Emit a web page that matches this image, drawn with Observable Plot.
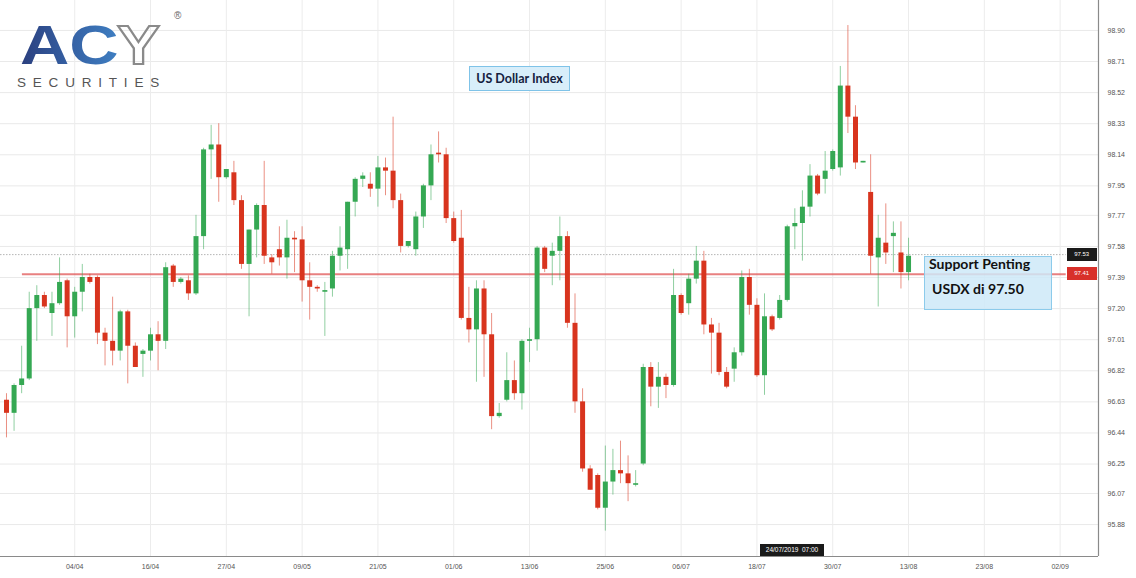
<!DOCTYPE html>
<html><head><meta charset="utf-8">
<script src="https://cdn.jsdelivr.net/npm/d3@7"></script>
<script src="https://cdn.jsdelivr.net/npm/@observablehq/plot@0.6"></script>
<style>
html,body{margin:0;padding:0;background:#fff;}
#wrap{position:relative;width:1136px;height:578px;overflow:hidden;}
.box{position:absolute;font-family:Lato,"Liberation Sans",sans-serif;font-weight:700;color:#111;box-sizing:border-box;}
.tag{position:absolute;font-family:"Liberation Sans",sans-serif;font-size:6px;color:#fff;box-sizing:border-box;line-height:12px;text-align:center;}
</style></head><body><div id="wrap"></div>
<script>
// OHLC values (one per candle, left to right)
const open = [96.64,96.56,96.73,96.77,97.20,97.28,97.17,97.23,97.37,97.15,
97.30,97.39,97.39,97.05,97.00,96.94,97.18,96.97,96.92,96.94,
97.04,97.00,97.46,97.36,97.37,97.29,97.64,98.17,98.20,98.00,
98.03,97.86,97.47,97.68,97.83,97.51,97.56,97.51,97.63,97.62,
97.37,97.33,97.30,97.32,97.52,97.56,97.85,97.99,97.96,97.93,
98.06,98.04,97.86,97.58,97.56,97.76,97.95,98.15,98.14,97.75,
97.63,97.14,97.07,97.32,97.04,96.54,96.64,96.76,96.68,97.00,
97.01,97.57,97.52,97.55,97.64,97.11,96.63,96.22,96.18,95.98,
96.14,96.21,96.19,96.12,96.25,96.84,96.72,96.78,96.73,97.28,
97.23,97.38,97.49,97.10,97.05,96.81,96.83,96.93,97.39,97.22,
96.79,97.15,97.14,97.25,97.70,97.72,97.82,98.01,97.99,98.05,
98.06,98.56,98.37,98.09,97.91,97.51,97.60,97.64,97.54,97.42];
const high = [96.68,96.74,96.97,97.30,97.34,97.30,97.30,97.51,97.38,97.33,
97.47,97.41,97.40,97.08,97.27,97.19,97.19,96.99,96.95,97.08,
97.12,97.48,97.47,97.39,97.40,97.77,98.18,98.32,98.33,98.05,
98.10,97.89,97.68,97.84,98.10,97.53,97.70,97.74,97.67,97.70,
97.48,97.34,97.36,97.55,97.70,97.85,98.00,98.03,98.03,98.13,
98.12,98.37,97.90,97.61,97.79,97.96,98.20,98.28,98.18,97.79,
97.80,97.33,97.37,97.37,97.17,96.62,96.93,96.88,97.01,97.08,
97.58,97.58,97.60,97.76,97.67,97.29,96.71,96.24,96.19,96.36,
96.34,96.39,96.30,96.21,96.86,96.87,96.87,96.80,97.44,97.29,
97.41,97.58,97.55,97.14,97.11,96.84,96.96,97.43,97.44,97.26,
97.29,97.16,97.28,97.71,97.81,97.92,98.08,98.02,98.16,98.17,
98.68,98.93,98.44,98.10,98.14,97.77,97.84,97.73,97.73,97.63];
const low = [96.41,96.45,96.68,96.76,97.00,97.20,97.03,97.22,96.96,97.02,
97.18,97.35,96.98,96.85,96.85,96.88,96.74,96.84,96.78,96.88,
96.82,96.95,97.33,97.35,97.25,97.28,97.56,97.99,97.85,97.99,
97.83,97.44,97.15,97.51,97.47,97.41,97.46,97.38,97.42,97.24,
97.13,97.30,97.03,97.27,97.43,97.44,97.76,97.94,97.88,97.82,
97.89,97.81,97.54,97.57,97.52,97.69,97.86,98.09,97.72,97.60,
97.13,96.99,96.75,96.78,96.46,96.53,96.63,96.64,96.58,96.87,
96.94,97.42,97.34,97.37,97.08,96.56,96.20,96.09,95.97,95.84,
96.06,96.13,96.02,96.11,96.24,96.60,96.59,96.65,96.72,97.16,
97.16,97.35,97.04,96.80,96.79,96.71,96.75,96.91,97.16,96.78,
96.67,97.06,97.13,97.24,97.56,97.49,97.76,97.89,97.90,98.04,
98.01,98.27,98.05,98.09,97.41,97.21,97.47,97.42,97.32,97.37];
const close = [96.56,96.73,96.77,97.20,97.28,97.21,97.23,97.36,97.15,97.30,
97.39,97.36,97.05,97.00,96.94,97.18,96.97,96.84,96.94,97.04,
97.00,97.45,97.36,97.38,97.29,97.64,98.17,98.20,98.00,98.05,
97.86,97.47,97.68,97.83,97.52,97.48,97.51,97.63,97.62,97.37,
97.33,97.32,97.31,97.52,97.57,97.85,97.99,98.01,97.93,98.06,
98.04,97.86,97.58,97.61,97.76,97.95,98.14,98.14,97.75,97.61,
97.14,97.07,97.32,97.04,96.54,96.56,96.76,96.68,97.00,97.01,
97.57,97.44,97.55,97.64,97.11,96.63,96.22,96.09,95.98,96.14,
96.21,96.19,96.13,96.13,96.84,96.72,96.78,96.73,97.28,97.17,
97.38,97.49,97.10,97.05,96.81,96.72,96.93,97.39,97.22,96.79,
97.15,97.07,97.25,97.70,97.72,97.82,98.01,97.90,98.04,98.16,
98.56,98.37,98.09,98.10,97.52,97.63,97.54,97.66,97.42,97.52];

// axis ticks
const xTickIndex = [9,19,29,39,49,59,69,79,89,99,109,119,129,139];
const xTickLabels = ["04/04","16/04","27/04","09/05","21/05","01/06","13/06","25/06","06/07","18/07","30/07","13/08","23/08","02/09"];
const yTickLabels = ["95.88","96.07","96.25","96.44","96.63","96.82","97.01","97.20","97.39","97.58","97.77","97.95","98.14","98.33","98.52","98.71","98.90"];
const yTicks = yTickLabels.map(Number);

// reference lines
const lastPrice = 97.53;
const supportLine = 97.41;

const GREEN = "#35a853", RED = "#d8341e";
const data = open.map((o, i) => ({i, open: o, high: high[i], low: low[i], close: close[i], up: close[i] >= o}));

const xDomain = [-0.79, 144.06];
const yDomain = [95.685, 99.083];

const chart = Plot.plot({
  width: 1136, height: 578,
  marginLeft: 0, marginRight: 38, marginTop: 0, marginBottom: 22,
  style: {fontFamily: "Liberation Sans, Arial, sans-serif", fontSize: "7px", color: "#555", background: "transparent"},
  x: {type: "linear", domain: xDomain, label: null},
  y: {type: "linear", domain: yDomain, label: null},
  marks: [
    Plot.gridY(yTicks, {stroke: "#e9e9e9", strokeOpacity: 1}),
    Plot.gridX(xTickIndex, {stroke: "#ececec", strokeOpacity: 1}),
    Plot.ruleY([lastPrice], {x1: xDomain[0], x2: 139.8, stroke: "#b5b5b5", strokeDasharray: "1.5,1.5", strokeWidth: 1}),
    Plot.ruleY([supportLine], {x1: 2.1, x2: 139.8, stroke: "#e05555", strokeOpacity: 0.75, strokeWidth: 2}),
    Plot.ruleX(data, {x: "i", y1: "low", y2: "high", stroke: d => d.up ? GREEN : RED, strokeOpacity: 0.55, strokeWidth: 1}),
    Plot.ruleX(data, {x: "i", y1: "open", y2: "close", stroke: d => d.up ? GREEN : RED, strokeWidth: 5}),
    Plot.ruleY([yDomain[0]], {stroke: "#8a8a8a", strokeWidth: 1.2}),
    Plot.ruleX([xDomain[1]], {stroke: "#8a8a8a", strokeWidth: 1.2}),
    Plot.axisY(yTicks, {anchor: "right", label: null, tickSize: 0, tickPadding: 9, tickFormat: d => yTickLabels[yTicks.indexOf(d)], fontSize: 7}),
    Plot.axisX(xTickIndex, {anchor: "bottom", label: null, tickSize: 0, tickPadding: 8, tickFormat: d => xTickLabels[xTickIndex.indexOf(d)], fontSize: 7})
  ]
});

const wrap = document.getElementById("wrap");
chart.style.position = "absolute";
chart.style.left = "0px";
chart.style.top = "0px";
wrap.appendChild(chart);

const xs = chart.scale("x"), ys = chart.scale("y");

function tag(text, value, bg) {
  const d = document.createElement("div");
  d.className = "tag";
  d.textContent = text;
  const cy = ys.apply(value);
  d.style.left = (xs.apply(139.8) + 1) + "px";
  d.style.top = (cy - 6.5) + "px";
  d.style.width = "30px";
  d.style.height = "13px";
  d.style.background = bg;
  wrap.appendChild(d);
}
tag(lastPrice.toFixed(2), lastPrice, "#1a1a1a");
tag(supportLine.toFixed(2), supportLine, "#d8302a");

// crosshair date label
const dl = document.createElement("div");
dl.className = "tag";
dl.textContent = "24/07/2019  07:00";
dl.style.whiteSpace = "pre";
dl.style.left = (xs.apply(103.7) - 32) + "px";
dl.style.top = (ys.apply(yDomain[0]) - 12) + "px";
dl.style.width = "64px"; dl.style.height = "12px";
dl.style.background = "#1a1a1a";
dl.style.fontSize = "6.5px";
wrap.appendChild(dl);

// title box
const tb = document.createElement("div");
tb.className = "box";
tb.textContent = "US Dollar Index";
Object.assign(tb.style, {left: "469px", top: "66px", width: "101px", height: "25px", background: "#d8eefa", border: "1px solid #7fc3e8", fontSize: "12.5px", lineHeight: "23px", textAlign: "center", color: "#15213f"});
wrap.appendChild(tb);

// support annotation
const sb = document.createElement("div");
sb.className = "box";
Object.assign(sb.style, {left: "924px", top: "256px", width: "128px", height: "54px", background: "rgba(206,233,248,0.85)", border: "1px solid #8ccbeb", fontSize: "14px"});
sb.innerHTML = '<span style="position:absolute;left:4px;top:-1px;line-height:16px;white-space:nowrap">Support Penting</span>' +
               '<span style="position:absolute;left:7px;top:24px;line-height:16px;white-space:nowrap">USDX di 97.50</span>';
wrap.appendChild(sb);

// logo
const logo = document.createElementNS("http://www.w3.org/2000/svg", "svg");
logo.setAttribute("width", "200"); logo.setAttribute("height", "100");
logo.style.position = "absolute"; logo.style.left = "0px"; logo.style.top = "0px";
logo.innerHTML = `
<defs><linearGradient id="lg" x1="0" x2="1" y1="0" y2="0">
<stop offset="0" stop-color="#2b3f7e"/><stop offset="0.5" stop-color="#3560a3"/><stop offset="1" stop-color="#3f7fc2"/></linearGradient></defs>
<text transform="translate(20,64) scale(1.22,1)" font-family="Liberation Sans, Arial, sans-serif" font-weight="bold" font-size="56" fill="url(#lg)" letter-spacing="0">AC</text>
<text transform="translate(117,64) scale(1.15,1)" font-family="Liberation Sans, Arial, sans-serif" font-weight="bold" font-size="56" fill="none" stroke="#8a8a8a" stroke-width="2">Y</text>
<text x="174" y="19" font-family="Liberation Sans, Arial, sans-serif" font-size="10" fill="#666">®</text>
<text x="17" y="87" font-family="Liberation Sans, Arial, sans-serif" font-size="13.5" fill="#555" letter-spacing="6.8">SECURITIES</text>`;
wrap.appendChild(logo);
</script></body></html>
